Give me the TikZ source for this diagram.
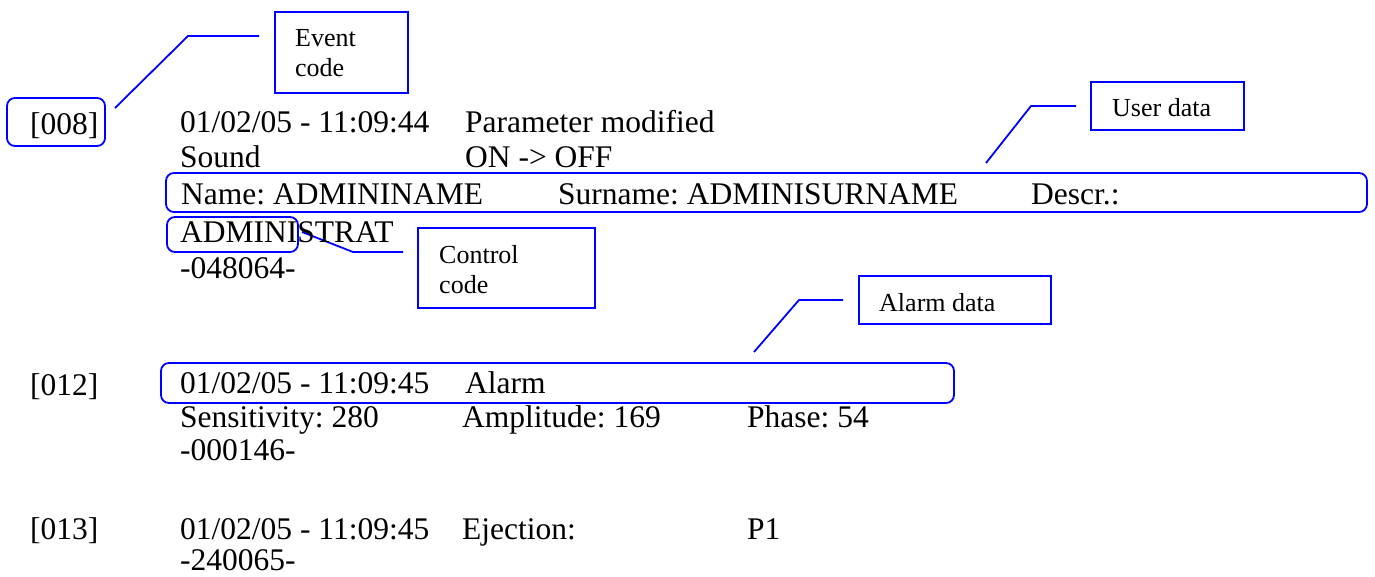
\documentclass[tikz,border=0pt]{standalone}
\usepackage{fontspec}
\setmainfont{Liberation Serif}
\definecolor{callblue}{RGB}{0,0,255}
\tikzset{
  txt/.style={anchor=base west,inner sep=0pt,font=\fontsize{31.5}{36}\selectfont\frenchspacing},
  ctxt/.style={anchor=base west,inner sep=0pt,font=\fontsize{26}{30}\selectfont},
  hl/.style={draw=callblue,line width=1.8pt,rounded corners=8pt,inner sep=0pt},
  cbox/.style={draw=callblue,line width=1.8pt,inner sep=0pt},
  cline/.style={draw=callblue,line width=1.8pt}
}
\begin{document}
\begin{tikzpicture}[x=1pt,y=-1pt]
\useasboundingbox (0,0) rectangle (1375,577);
% highlight boxes
\node[hl,minimum width=98pt,minimum height=48pt] (h008) at (56,122) {};
\node[hl,minimum width=1201pt,minimum height=39pt] (hname) at (766.5,192.5) {};
\node[hl,minimum width=131pt,minimum height=35pt] (hadm) at (232.5,234.5) {};
\node[hl,minimum width=793pt,minimum height=40pt] (halarm) at (557.5,383) {};
% callout boxes
\node[cbox,minimum width=133pt,minimum height=81pt] (bevent) at (341.5,52.5) {};
\node[cbox,minimum width=153pt,minimum height=48pt] (buser) at (1167.5,106) {};
\node[cbox,minimum width=177pt,minimum height=80pt] (bctrl) at (506.5,268) {};
\node[cbox,minimum width=192pt,minimum height=48pt] (balarm) at (955,300) {};
\node[ctxt] (tevent1) at (295,47) {Event};
\node[ctxt] (tevent2) at (295,77) {code};
\node[ctxt] (tuser) at (1112,117) {User data};
\node[ctxt] (tctrl1) at (439,263) {Control};
\node[ctxt] (tctrl2) at (439,293) {code};
\node[ctxt] (talarm) at (879,311) {Alarm data};
% callout lines
\coordinate (e0) at (115,108); \coordinate (e1) at (188,36); \coordinate (e2) at (259,36);
\draw[cline] (e0) -- (e1) -- (e2);
\coordinate (u0) at (986,163); \coordinate (u1) at (1031,106); \coordinate (u2) at (1076,106);
\draw[cline] (u0) -- (u1) -- (u2);
\coordinate (c0) at (302,232); \coordinate (c1) at (353,252); \coordinate (c2) at (403,252);
\draw[cline] (c0) -- (c1) -- (c2);
\coordinate (a0) at (754,352); \coordinate (a1) at (799,300); \coordinate (a2) at (843,300);
\draw[cline] (a0) -- (a1) -- (a2);
% text block 1
\node[txt] (n008) at (30,135) {[008]};
\node[txt] (r1a) at (180,133) {01/02/05 - 11:09:44};
\node[txt] (r1b) at (465,133) {Parameter modified};
\node[txt] (r2a) at (180,168) {Sound};
\node[txt] (r2b) at (465,168) {ON -> OFF};
\node[txt] (r3a) at (181,205) {Name: ADMININAME};
\node[txt] (r3b) at (558,205) {Surname: ADMINISURNAME};
\node[txt] (r3c) at (1031,205) {Descr.:};
\node[txt] (r4a) at (180,243) {ADMINISTRAT};
\node[txt] (r5a) at (180,279) {-048064-};
% text block 2
\node[txt] (n012) at (30,395) {[012]};
\node[txt] (s1a) at (180,393) {01/02/05 - 11:09:45};
\node[txt] (s1b) at (465,393) {Alarm};
\node[txt] (s2a) at (180,427) {Sensitivity: 280};
\node[txt] (s2b) at (462,427) {Amplitude: 169};
\node[txt] (s2c) at (747,427) {Phase: 54};
\node[txt] (s3a) at (180,460) {-000146-};
% text block 3
\node[txt] (n013) at (30,539) {[013]};
\node[txt] (t1a) at (180,539) {01/02/05 - 11:09:45};
\node[txt] (t1b) at (462,539) {Ejection:};
\node[txt] (t1c) at (747,539) {P1};
\node[txt] (t2a) at (180,570) {-240065-};
\end{tikzpicture}
\end{document}
